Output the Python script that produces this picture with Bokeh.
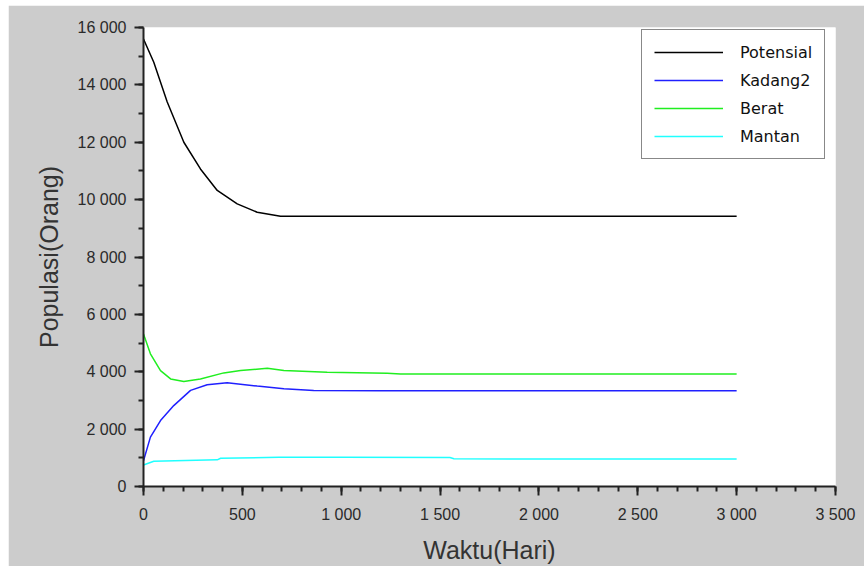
from bokeh.plotting import figure
from bokeh.models import FixedTicker, CustomJSTickFormatter, Legend, LegendItem, Range1d
from bokeh.embed import file_html
from bokeh.resources import INLINE

# Data (time in days, population)
t_pot = [0, 52, 120, 204, 288, 373, 474, 575, 693, 1000, 1500, 2000, 2500, 3000]
v_pot = [15600, 14790, 13400, 12000, 11070, 10320, 9850, 9560, 9420, 9420, 9420, 9420, 9420, 9420]

t_kad = [0, 35, 86, 153, 238, 322, 423, 575, 710, 861, 1200, 1500, 2000, 2500, 3000]
v_kad = [900, 1720, 2300, 2820, 3350, 3545, 3615, 3500, 3405, 3345, 3340, 3340, 3340, 3340, 3340]

t_ber = [0, 35, 86, 137, 204, 288, 406, 491, 626, 710, 929, 1233, 1300, 2000, 2500, 3000]
v_ber = [5320, 4625, 4040, 3750, 3660, 3750, 3960, 4040, 4120, 4040, 3985, 3950, 3920, 3920, 3920, 3920]

t_man = [0, 52, 373, 390, 685, 1000, 1550, 1570, 2000, 2500, 3000]
v_man = [750, 880, 930, 985, 1020, 1020, 1010, 965, 960, 960, 960]

series_names = ["Potensial", "Kadang2", "Berat", "Mantan"]
series_colors = ["#000000", "#2020ff", "#20ee20", "#20ffff"]

x_major = [0, 500, 1000, 1500, 2000, 2500, 3000, 3500]
x_minor = list(range(0, 3501, 100))
y_major = [0, 2000, 4000, 6000, 8000, 10000, 12000, 14000, 16000]
y_minor = list(range(0, 16001, 1000))

p = figure(width=856, height=561, output_backend="svg", toolbar_location=None,
           x_range=Range1d(0, 3500), y_range=Range1d(0, 16000),
           min_border_left=135, min_border_right=29, min_border_top=22, min_border_bottom=80)
p.margin = (5, 0, 0, 8)

p.background_fill_color = "white"
p.border_fill_color = "#cccccc"
p.outline_line_color = None
p.xgrid.visible = False
p.ygrid.visible = False

fmt = CustomJSTickFormatter(code="""
var s = Math.round(tick).toString();
return s.replace(/\\B(?=(\\d{3})+(?!\\d))/g, " ");
""")

p.xaxis.ticker = FixedTicker(ticks=x_major, minor_ticks=x_minor)
p.yaxis.ticker = FixedTicker(ticks=y_major, minor_ticks=y_minor)
for ax in (p.xaxis, p.yaxis):
    ax.formatter = fmt
    ax.axis_line_color = "#222222"
    ax.axis_line_width = 2
    ax.major_tick_line_color = "#222222"
    ax.minor_tick_line_color = "#222222"
    ax.major_tick_line_width = 2
    ax.minor_tick_line_width = 2
    ax.major_tick_in = 0
    ax.minor_tick_in = 0
    ax.major_tick_out = 9
    ax.minor_tick_out = 5
    ax.major_label_text_font = "Liberation Sans"
    ax.major_label_text_font_size = "16px"
    ax.major_label_text_color = "#2a2a2a"
    ax.axis_label_text_font = "Liberation Sans"
    ax.axis_label_text_font_size = "25px"
    ax.axis_label_text_font_style = "normal"
    ax.axis_label_text_color = "#333333"

p.xaxis.axis_label = "Waktu(Hari)"
p.yaxis.axis_label = "Populasi(Orang)"
p.xaxis.major_label_standoff = 10
p.yaxis.major_label_standoff = 8
p.xaxis.axis_label_standoff = 10
p.yaxis.axis_label_standoff = 12

r1 = p.line(t_pot, v_pot, line_color=series_colors[0], line_width=1.5)
r2 = p.line(t_kad, v_kad, line_color=series_colors[1], line_width=1.5)
r3 = p.line(t_ber, v_ber, line_color=series_colors[2], line_width=1.5)
r4 = p.line(t_man, v_man, line_color=series_colors[3], line_width=1.5)

legend = Legend(items=[LegendItem(label=n, renderers=[r]) for n, r in zip(series_names, [r1, r2, r3, r4])],
                location=(498, 327))
legend.border_line_color = "#111111"
legend.border_line_width = 1.5
legend.background_fill_color = "white"
legend.background_fill_alpha = 1
legend.label_text_font = "DejaVu Sans"
legend.label_text_font_size = "16px"
legend.label_text_font_style = "normal"
legend.label_text_color = "#111111"
legend.glyph_width = 69
legend.glyph_height = 20
legend.label_height = 20
legend.label_standoff = 17
legend.spacing = 8
legend.padding = 12
legend.margin = 0
p.add_layout(legend, "center")

open("out.html", "w").write(file_html(p, INLINE))
